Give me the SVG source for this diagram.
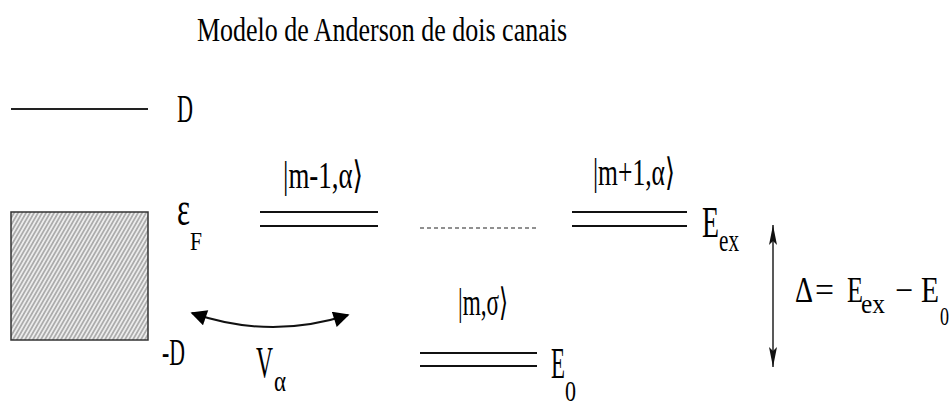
<svg xmlns="http://www.w3.org/2000/svg" width="950" height="403" viewBox="0 0 950 403" font-family="'Liberation Serif', 'DejaVu Serif', serif">
<style>
text{font-family:'Liberation Serif','DejaVu Serif',serif;fill:#000}
.lv{stroke:#111;stroke-width:2.2;fill:none}
.ln{stroke:#222;stroke-width:2;fill:none}
</style>
<defs>
<pattern id="hatch" width="4" height="8" patternUnits="userSpaceOnUse" patternTransform="skewX(-30)">
<rect width="4" height="8" fill="#ececec"/>
<line x1="1" y1="0" x2="1" y2="8" stroke="#8a8a8a" stroke-width="1.3"/>
</pattern>
<marker id="big" viewBox="0 0 10 10" refX="9" refY="5" markerWidth="17" markerHeight="16" markerUnits="userSpaceOnUse" orient="auto-start-reverse">
<path d="M0,0 L10,5 L0,10 Z" fill="#000"/>
</marker>
<marker id="thin" viewBox="0 0 20 8" refX="20" refY="4" markerWidth="22" markerHeight="8" markerUnits="userSpaceOnUse" orient="auto-start-reverse">
<path d="M0,0 L20,4 L0,8 L4,4 Z" fill="#111"/>
</marker>
</defs>
<g id="title"><text x="197" y="41" font-size="33" textLength="370" lengthAdjust="spacingAndGlyphs">Modelo de Anderson de dois canais</text></g>
<g id="band">
<line class="ln" x1="11" y1="109" x2="148" y2="109"/>
<text x="177" y="122" font-size="40" textLength="16" lengthAdjust="spacingAndGlyphs">D</text>
<rect x="11" y="212" width="137" height="128" fill="url(#hatch)" stroke="#333" stroke-width="1.5"/>
<text x="177" y="225" font-size="48" textLength="13" lengthAdjust="spacingAndGlyphs">ε</text>
<text x="190" y="250" font-size="26" textLength="12" lengthAdjust="spacingAndGlyphs">F</text>
<text x="162" y="365" font-size="38" textLength="23" lengthAdjust="spacingAndGlyphs">-D</text>
</g>
<g id="level-m-1">
<line class="lv" x1="260" y1="212" x2="378" y2="212"/>
<line class="lv" x1="260" y1="226" x2="378" y2="226"/>
<text x="283" y="188" font-size="38" textLength="80" lengthAdjust="spacingAndGlyphs">|m-1,α⟩</text>
</g>
<g id="dots"><line x1="420" y1="228" x2="536" y2="228" stroke="#222" stroke-width="1.2" stroke-dasharray="4,3"/></g>
<g id="level-m+1">
<line class="lv" x1="572" y1="212" x2="687" y2="212"/>
<line class="lv" x1="572" y1="226" x2="687" y2="226"/>
<text x="593" y="185" font-size="38" textLength="82" lengthAdjust="spacingAndGlyphs">|m+1,α⟩</text>
<text x="702" y="237" font-size="44" textLength="17" lengthAdjust="spacingAndGlyphs">E</text>
<text x="719" y="251" font-size="32" textLength="20" lengthAdjust="spacingAndGlyphs">ex</text>
</g>
<g id="level-m">
<line class="lv" x1="420" y1="353" x2="537" y2="353"/>
<line class="lv" x1="420" y1="366" x2="537" y2="366"/>
<text x="458" y="315" font-size="38" textLength="50" lengthAdjust="spacingAndGlyphs">|m,σ⟩</text>
<text x="551" y="378" font-size="44" textLength="14" lengthAdjust="spacingAndGlyphs">E</text>
<text x="565" y="401" font-size="30" textLength="11" lengthAdjust="spacingAndGlyphs">0</text>
</g>
<g id="connectors">
<path d="M192,313 Q270,340 348,315" stroke="#111" stroke-width="2" fill="none" marker-start="url(#big)" marker-end="url(#big)"/>
<line x1="773" y1="225" x2="773" y2="367" stroke="#222" stroke-width="1.5" marker-start="url(#thin)" marker-end="url(#thin)"/>
</g>
<g id="hop-label">
<text x="256" y="377" font-size="44" textLength="17" lengthAdjust="spacingAndGlyphs">V</text>
<text x="274" y="391" font-size="30" textLength="12" lengthAdjust="spacingAndGlyphs">α</text>
</g>
<g id="gap-label">
<text x="795" y="302" font-size="36" textLength="18" lengthAdjust="spacingAndGlyphs">Δ</text>
<text x="815" y="302" font-size="36" textLength="19" lengthAdjust="spacingAndGlyphs">=</text>
<text x="847" y="302" font-size="36" textLength="16" lengthAdjust="spacingAndGlyphs">E</text>
<text x="861" y="313" font-size="28" textLength="24" lengthAdjust="spacingAndGlyphs">ex</text>
<text x="895" y="302" font-size="36" textLength="18" lengthAdjust="spacingAndGlyphs">−</text>
<text x="921" y="302" font-size="36" textLength="18" lengthAdjust="spacingAndGlyphs">E</text>
<text x="940" y="325" font-size="26" textLength="9" lengthAdjust="spacingAndGlyphs">0</text>
</g>
</svg>
